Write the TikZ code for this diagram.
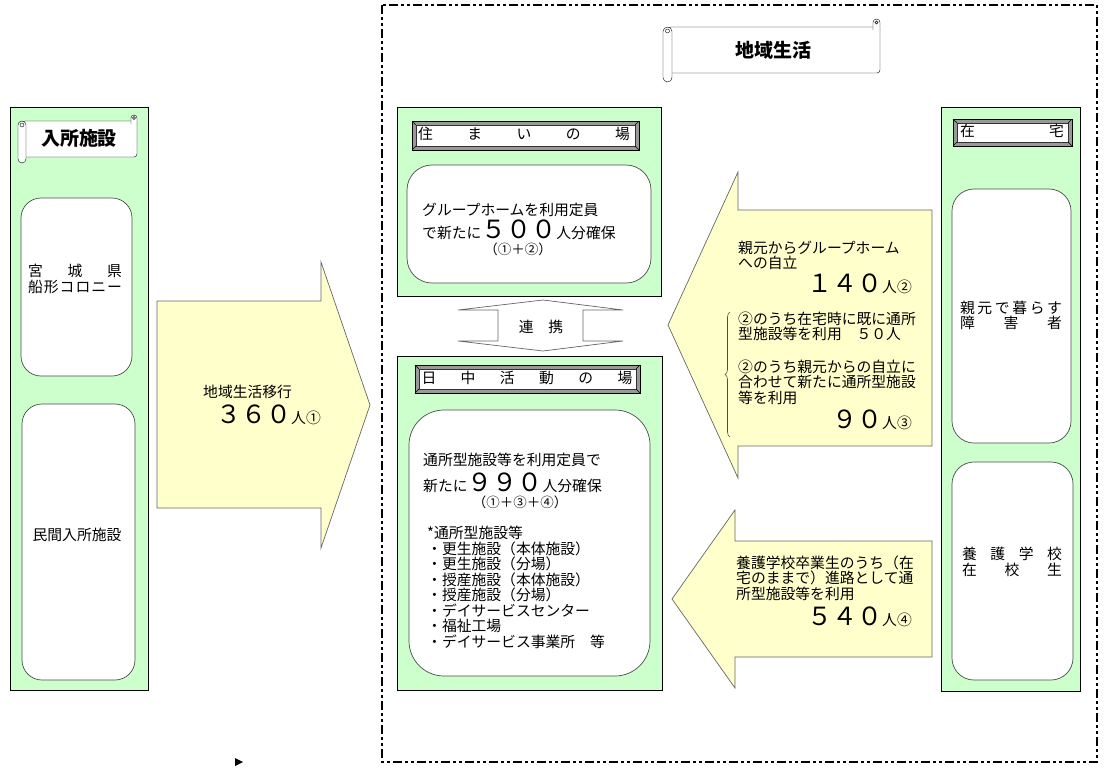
\documentclass[tikz,border=0pt]{standalone}
\usepackage{fontspec}
\setmainfont{Noto Sans CJK JP}
\usetikzlibrary{decorations.pathreplacing,shadows}
\definecolor{panelgreen}{HTML}{CCFFCC}
\definecolor{noteyellow}{HTML}{FFFFCC}
\newcommand\bignum[1]{{\fontsize{25}{25}\selectfont #1}}
\begin{document}
\begin{tikzpicture}[x=1pt,y=-1pt,
    panel/.style={fill=panelgreen,draw=black,line width=0.8pt,
      drop shadow={shadow xshift=1.3pt,shadow yshift=-1.3pt,fill=black,opacity=1}},
    roundbox/.style={fill=white,draw=black!70,line width=0.7pt},
    yarrow/.style={fill=noteyellow,draw=black!60,line width=0.7pt},
    bevel/.style={fill=black!40,draw=black,line width=0.6pt},
    txt/.style={inner sep=0pt,font=\fontsize{14.8}{15.5}\selectfont,align=left},
    sumtxt/.style={inner sep=0pt,font=\fontsize{13.5}{13.5}\selectfont},
    scrolltxt/.style={inner sep=0pt,font=\bfseries\fontsize{19}{19}\selectfont}]
    \useasboundingbox (0,0) rectangle (1106,769);
    \draw[line width=2.2pt,dash pattern=on 9pt off 3pt on 3pt off 3pt on 3pt off 3pt] (382,5) rectangle (1097,762);
    \draw[panel] (10,107) rectangle (148,690);
    \draw[fill=white,rounded corners=3pt] (22,121) -- (137,121) -- (137,157) -- (22,157) -- cycle;
    \draw[fill=white,rounded corners=3pt] (131,124) -- (131,115) -- (137,115) -- (137,124);
    \draw (134,118) circle[radius=1.5];
    \draw[fill=white,rounded corners=4pt] (18,121) rectangle (26,163);
    \draw (22,125) circle[radius=2];
    \node[scrolltxt] (nyusho) at (79,138) {入所施設};
    \draw[roundbox,rounded corners=20pt] (21,198) rectangle (132,376);
    \draw[roundbox,rounded corners=20pt] (22,404) rectangle (135,680);
    \node[txt] (miyagi) at (75,271) {\makebox[94pt]{宮\hfill 城\hfill 県}};
    \node[txt] (funagata) at (75,287) {\makebox[94pt]{船\hfill 形\hfill コ\hfill ロ\hfill ニ\hfill ー}};
    \node[txt] (minkan) at (77,535) {民間入所施設};
    \draw[yarrow] (157,301) -- (321,301) -- (321,262) -- (370,405) -- (321,548) -- (321,508) -- (157,508) -- cycle;
    \node[txt,anchor=west] (ikou) at (203,392) {地域生活移行};
    \node[txt,anchor=base east] (n360) at (321,423) {\bignum{３６０}人①};
    \draw[fill=white,rounded corners=3pt] (668,27) -- (880,27) -- (880,73) -- (668,73) -- cycle;
    \draw[fill=white,rounded corners=3.5pt] (873,30) -- (873,19) -- (880,19) -- (880,30);
    \draw (876.5,22.5) circle[radius=1.5];
    \draw[fill=white,rounded corners=4.5pt] (663,27) rectangle (672,82);
    \draw (667.5,31) circle[radius=2];
    \node[scrolltxt] (chiiki) at (773,50) {地域生活};
    \draw[panel] (397,107) rectangle (661,296);
    \draw[bevel] (412,121) rectangle (639,150);
    \draw[fill=white,draw=black!80] (416,125) rectangle (635,146);
    \draw (412,121) -- (416,125) (639,121) -- (635,125) (412,150) -- (416,146) (639,150) -- (635,146);
    \node[txt] (sumai) at (524,134) {\makebox[212pt]{住\hfill ま\hfill い\hfill の\hfill 場}};
    \draw[roundbox,rounded corners=25pt] (407,165) rectangle (651,283);
    \node[txt,anchor=west] (gh1) at (422,210) {グループホームを利用定員};
    \node[txt,anchor=base west] (gh2) at (422,238) {で新たに\bignum{５００}人分確保};
    \node[sumtxt] (gh3) at (518,249) {（①＋②）};
    \draw[fill=white,draw=black!60,line width=0.7pt] (543,300) -- (623,310) -- (583,310) -- (583,341) -- (623,341) -- (543,351) -- (458,341) -- (498,341) -- (498,310) -- (458,310) -- cycle;
    \node[txt] (renkei) at (541,327) {連　携};
    \draw[panel] (397,356) rectangle (662,690);
    \draw[bevel] (415,365) rectangle (640,393);
    \draw[fill=white,draw=black!80] (419,369) rectangle (636,389);
    \draw (415,365) -- (419,369) (640,365) -- (636,369) (415,393) -- (419,389) (640,393) -- (636,389);
    \node[txt] (nicchu) at (527,378) {\makebox[211pt]{日\hfill 中\hfill 活\hfill 動\hfill の\hfill 場}};
    \draw[roundbox,rounded corners=35pt] (409,410) rectangle (650,676);
    \node[txt,anchor=west] (ts1) at (423,460) {通所型施設等を利用定員で};
    \node[txt,anchor=base west] (ts2) at (423,491) {新たに\bignum{９９０}人分確保};
    \node[sumtxt] (ts3) at (520,502) {（①＋③＋④）};
    \node[txt,anchor=north west] (tslist) at (427,526) {*通所型施設等\\・更生施設（本体施設）\\・更生施設（分場）\\・授産施設（本体施設）\\・授産施設（分場）\\・デイサービスセンター\\・福祉工場\\・デイサービス事業所　等};
    \draw[panel] (941,107) rectangle (1080,691);
    \draw[bevel] (953,119) rectangle (1072,146);
    \draw[fill=white,draw=black!80] (957,123) rectangle (1068,142);
    \draw (953,119) -- (957,123) (1072,119) -- (1068,123) (953,146) -- (957,142) (1072,146) -- (1068,142);
    \node[txt] (zaitaku) at (1012,131) {\makebox[104pt]{在\hfill 宅}};
    \draw[roundbox,rounded corners=22pt] (952,189) rectangle (1071,443);
    \draw[roundbox,rounded corners=22pt] (952,462) rectangle (1073,680);
    \node[txt] (oyamoto) at (1011,308) {\makebox[102pt]{親\hfill 元\hfill で\hfill 暮\hfill ら\hfill す}};
    \node[txt] (shogai) at (1011,323) {\makebox[102pt]{障\hfill 害\hfill 者}};
    \node[txt] (yogo) at (1012,554) {\makebox[100pt]{養\hfill 護\hfill 学\hfill 校}};
    \node[txt] (zaiko) at (1012,570) {\makebox[100pt]{在\hfill 校\hfill 生}};
    \draw[yarrow] (932,210) -- (738,210) -- (738,172) -- (668,325) -- (738,478) -- (738,446) -- (932,446) -- cycle;
    \node[txt,anchor=north west] (oya1) at (738,240.5) {親元からグループホーム\\への自立};
    \node[txt,anchor=base east] (n140) at (912,292) {\bignum{１４０}人②};
    \node[txt,anchor=north west] (oya2) at (738,311.5) {②のうち在宅時に既に通所\\型施設等を利用　５０人};
    \node[txt,anchor=north west] (oya3) at (738,359.5) {②のうち親元からの自立に\\合わせて新たに通所型施設\\等を利用};
    \node[txt,anchor=base east] (n90) at (912,428) {\bignum{９０}人③};
    \draw[draw=black!70,line width=0.6pt,decorate,decoration={brace,amplitude=5pt}] (730,437) -- (730,312);
    \draw[yarrow] (932,541) -- (735,541) -- (735,510) -- (672,599) -- (735,688) -- (735,657) -- (932,657) -- cycle;
    \node[txt,anchor=north west] (yogo3) at (736,555.5) {養護学校卒業生のうち（在\\宅のままで）進路として通\\所型施設等を利用};
    \node[txt,anchor=base east] (n540) at (912,625) {\bignum{５４０}人④};
    \fill (235,758) -- (243,762) -- (235,766) -- cycle;
\end{tikzpicture}
\end{document}
